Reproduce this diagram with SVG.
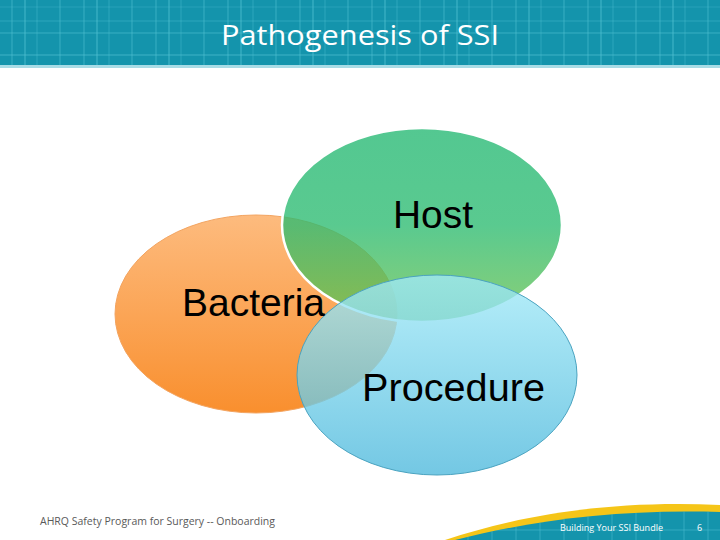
<svg xmlns="http://www.w3.org/2000/svg" width="720" height="540" viewBox="0 0 720 540">
<defs>
  <linearGradient id="gOrange" x1="0" y1="0" x2="0" y2="1">
    <stop offset="0" stop-color="#FDBB7E"/>
    <stop offset="1" stop-color="#F98F2E"/>
  </linearGradient>
  <linearGradient id="gGreen" x1="0" y1="0" x2="0" y2="1">
    <stop offset="0" stop-color="#23B872"/>
    <stop offset="0.5" stop-color="#2BBB70"/>
    <stop offset="1" stop-color="#6CC24E"/>
  </linearGradient>
  <linearGradient id="gBlue" x1="0" y1="0" x2="0" y2="1">
    <stop offset="0" stop-color="#A2EAF8"/>
    <stop offset="1" stop-color="#4CB8DC"/>
  </linearGradient>
  <pattern id="grid" x="0" y="0" width="72" height="66" patternUnits="userSpaceOnUse">
    <g stroke="#4FC0D2" stroke-width="1">
      <line x1="12" y1="0" x2="12" y2="66" stroke-opacity="0.6"/>
      <line x1="25" y1="0" x2="25" y2="66" stroke-opacity="0.8"/>
      <line x1="37" y1="0" x2="37" y2="66" stroke-opacity="0.4"/>
      <line x1="60" y1="0" x2="60" y2="66" stroke-opacity="0.6"/>
      <line x1="0" y1="7" x2="72" y2="7" stroke-opacity="0.3"/>
      <line x1="0" y1="21" x2="72" y2="21" stroke-opacity="0.4"/>
      <line x1="0" y1="33" x2="72" y2="33" stroke-opacity="0.6"/>
      <line x1="0" y1="55" x2="72" y2="55" stroke-opacity="0.7"/>
    </g>
  </pattern>
  <pattern id="grid2" x="0" y="0" width="24" height="20" patternUnits="userSpaceOnUse">
    <g stroke="#4FC0D2" stroke-width="1" stroke-opacity="0.5">
      <line x1="12" y1="0" x2="12" y2="20"/>
      <line x1="0" y1="10" x2="24" y2="10"/>
    </g>
  </pattern>
  <style>
    .lbl { font-family: "Liberation Sans", Arial, sans-serif; fill: #000; font-size: 39px; text-anchor: middle; }
    .title { font-family: "Open Sans", "Liberation Sans", sans-serif; fill: #fff; }
  </style>
</defs>

<rect x="0" y="0" width="720" height="540" fill="#fff"/>

<g id="header">
  <rect x="0" y="0" width="720" height="66" fill="#1494AC"/>
  <rect x="0" y="0" width="720" height="66" fill="url(#grid)"/>
  <rect x="0" y="65" width="720" height="3" fill="#A8DCE6"/>
  <text class="title" x="360" y="45" font-size="27" text-anchor="middle" textLength="278" lengthAdjust="spacingAndGlyphs">Pathogenesis of SSI</text>
</g>

<g id="bacteria">
  <ellipse cx="256" cy="314" rx="141" ry="99" fill="url(#gOrange)" stroke="#F3A460" stroke-width="1"/>
</g>

<g id="host">
  <ellipse cx="422" cy="225" rx="140" ry="97" fill="url(#gGreen)" fill-opacity="0.78" stroke="#fff" stroke-width="2.5"/>
</g>

<g id="procedure">
  <ellipse cx="437" cy="375" rx="140" ry="100" fill="url(#gBlue)" fill-opacity="0.78" stroke="#4AA3C0" stroke-width="1"/>
</g>

<g id="labels">
  <text class="lbl" x="433" y="228" textLength="80" lengthAdjust="spacingAndGlyphs">Host</text>
  <text class="lbl" x="253.5" y="316" textLength="143" lengthAdjust="spacingAndGlyphs">Bacteria</text>
  <text class="lbl" x="453.5" y="401" textLength="183" lengthAdjust="spacingAndGlyphs">Procedure</text>
</g>

<g id="connectors"></g>

<g id="footer">
  <text x="40" y="525" font-family="'Open Sans', 'Liberation Sans', sans-serif" font-size="10.5" fill="#595959" textLength="235" lengthAdjust="spacingAndGlyphs">AHRQ Safety Program for Surgery -- Onboarding</text>
  <path d="M445,540 C520,515 610,500 720,505 L720,540 Z" fill="#F5C518"/>
  <path d="M455,540 C530,521 615,509 720,512 L720,540 Z" fill="#1494AC"/>
  <path d="M455,540 C530,521 615,509 720,512 L720,540 Z" fill="url(#grid2)"/>
  <text x="560" y="531" font-family="'Open Sans', 'Liberation Sans', sans-serif" font-size="9" fill="#fff" textLength="103" lengthAdjust="spacingAndGlyphs">Building Your SSI Bundle</text>
  <text x="697" y="531" font-family="'Open Sans', 'Liberation Sans', sans-serif" font-size="9" fill="#fff">6</text>
</g>
</svg>
